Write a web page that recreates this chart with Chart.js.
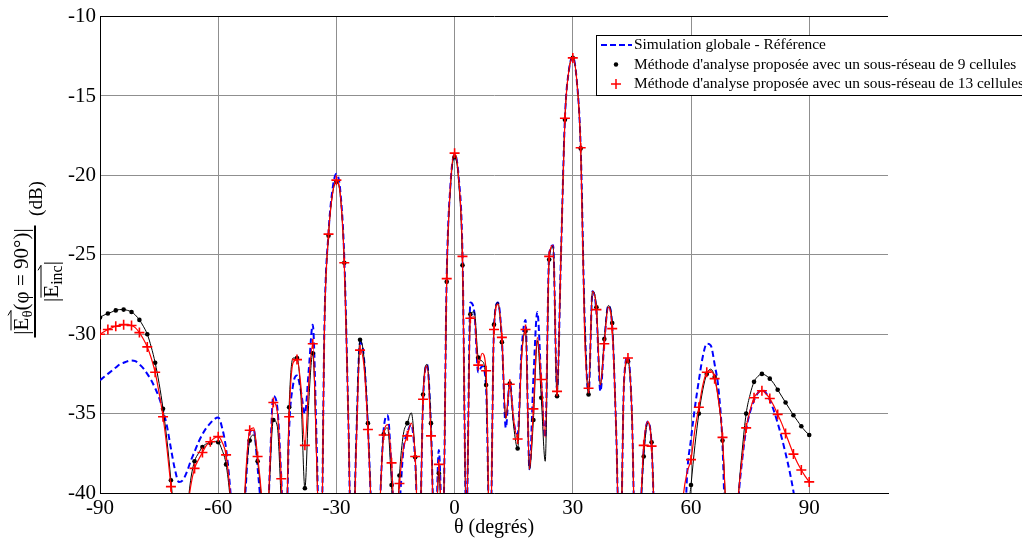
<!DOCTYPE html>
<html><head><meta charset="utf-8">
<script src="https://cdn.jsdelivr.net/npm/chart.js@4.4.1/dist/chart.umd.min.js"></script>
<style>html,body{margin:0;padding:0;background:#fff;}</style>
</head><body>
<canvas id="c" width="1022" height="540"></canvas>
<script>
// ---- data (theta in degrees, values in dB) ----
const theta = [
-90,-89,-88,-87,-86,-85,-84,-83,-82,-81,
-80,-79,-78,-77,-76,-75,-74,-73,-72,-71,
-70,-69,-68,-67,-66,-65,-64,-63,-62,-61,
-60,-59,-58,-57,-56,-55,-54,-53,-52,-51,
-50,-49,-48,-47,-46,-45,-44,-43,-42,-41,
-40,-39,-38,-37,-36,-35,-34,-33,-32,-31,
-30,-29,-28,-27,-26,-25,-24,-23,-22,-21,
-20,-19,-18,-17,-16,-15,-14,-13,-12,-11,
-10,-9,-8,-7,-6,-5,-4,-3,-2,-1,
0,1,2,3,4,5,6,7,8,9,
10,11,12,13,14,15,16,17,18,19,
20,21,22,23,24,25,26,27,28,29,
30,31,32,33,34,35,36,37,38,39,
40,41,42,43,44,45,46,47,48,49,
50,51,52,53,54,55,56,57,58,59,
60,61,62,63,64,65,66,67,68,69,
70,71,72,73,74,75,76,77,78,79,
80,81,82,83,84,85,86,87,88,89,
90];

const refSim = [
-32.9,-32.7,-32.5,-32.3,-32.1,-31.9,-31.8,-31.7,-31.65,-31.7,
-31.9,-32.15,-32.5,-32.9,-33.4,-34.0,-34.8,-35.8,-37.2,-38.5,
-39.3,-39.2,-38.7,-38.0,-37.4,-36.8,-36.3,-35.9,-35.6,-35.35,
-35.25,-35.9,-37.2,-39.6,-43,-47,-44,-39.6,-36.2,-36.0,
-38.4,-41.5,-46,-39.2,-33.9,-34.6,-39.0,-45,-36.0,-33.2,
-32.6,-33.6,-35.0,-32.2,-29.4,-37,-46,-29.0,-23.6,-20.9,
-19.9,-21.0,-25.2,-35,-46,-37,-30.5,-31.5,-35.8,-42,
-47,-41,-36.0,-35.1,-38.5,-43,-40.8,-37.3,-36.2,-35.7,
-38.0,-44,-34.2,-31.9,-35.8,-44,-37.3,-43,-26.3,-20.4,
-18.7,-20.0,-24.9,-42,-28.0,-28.6,-32.4,-32.0,-33.4,-44,
-29.6,-28.0,-30.3,-35.9,-33.0,-35.5,-36.3,-31.0,-29.1,-38.5,
-32.8,-28.6,-33.0,-36.5,-25.0,-24.4,-33.5,-25.0,-16.4,-13.4,
-12.55,-14.0,-18.2,-29,-33.8,-27.3,-28.6,-33.6,-30.5,-28.2,
-29.5,-36,-45,-33.0,-31.4,-35,-45,-42,-37.3,-35.5,
-37.0,-44,-48,-50,-50,-50,-48,-44,-45,-38.9,
-36.6,-34.6,-32.9,-31.4,-30.6,-30.7,-31.9,-33.5,-37.0,-45,
-50,-45,-40.5,-37.9,-36.0,-34.9,-34.15,-33.7,-33.5,-33.7,
-34.15,-34.8,-35.6,-36.5,-37.5,-38.6,-39.9,-41.5,-43,-45,
-47];

const cells9 = [
-28.95,-28.8,-28.7,-28.6,-28.5,-28.45,-28.45,-28.5,-28.6,-28.8,
-29.1,-29.5,-30.0,-30.8,-31.8,-33.1,-34.7,-36.7,-39.2,-42,
-45,-44,-41.5,-39.2,-38.0,-37.5,-37.1,-36.9,-36.85,-36.75,
-36.8,-37.3,-38.2,-40.3,-44,-47,-44,-39.2,-36.7,-36.35,
-38.0,-40.5,-45,-39.5,-35.4,-35.8,-40.5,-45,-34.6,-31.5,
-31.5,-33.9,-39.7,-34.2,-31.2,-38,-46,-29.2,-23.8,-21.2,
-20.4,-21.3,-25.5,-35,-46,-37,-30.35,-31.5,-35.6,-42,
-47,-41,-36.3,-35.9,-39.5,-44,-38.9,-36.3,-35.6,-34.95,
-37.75,-44,-33.8,-31.9,-35.6,-44,-38.76,-43,-26.7,-20.6,
-18.85,-20.3,-25.66,-42,-28.74,-28.6,-31.47,-31.7,-33.2,-44,
-29.4,-28.0,-30.5,-35.3,-33.1,-35.8,-37.2,-31.4,-29.8,-38.5,
-35.4,-30.4,-34.0,-38.0,-25.3,-24.5,-33.9,-25.0,-16.5,-13.4,
-12.6,-14.0,-18.3,-29,-33.8,-27.3,-28.3,-33.2,-30.3,-28.2,
-29.3,-36,-45,-33.0,-31.7,-35,-45,-42,-37.7,-35.6,
-36.8,-44,-48,-50,-50,-50,-48,-46,-48,-42,
-39.5,-37.0,-35.0,-33.5,-32.5,-32.2,-32.7,-34.2,-36.7,-42,
-48,-45,-40.3,-37.3,-35.0,-33.8,-33.0,-32.65,-32.5,-32.6,
-32.8,-33.1,-33.5,-33.9,-34.3,-34.7,-35.1,-35.45,-35.8,-36.1,
-36.35];

const cells13 = [
-30.0,-29.85,-29.7,-29.6,-29.5,-29.45,-29.4,-29.4,-29.45,-29.6,
-29.9,-30.3,-30.8,-31.5,-32.4,-33.7,-35.2,-37.2,-39.6,-42,
-45,-44,-41.5,-39.6,-38.45,-37.9,-37.45,-37.0,-36.77,-36.55,
-36.45,-36.8,-37.6,-39.9,-43,-47,-44,-38.8,-36.05,-35.9,
-37.7,-40.2,-45,-39.0,-34.3,-34.9,-39.1,-45,-35.2,-31.8,
-31.6,-33.3,-37.0,-33.0,-30.6,-38,-46,-29.2,-23.7,-21.2,
-20.3,-21.2,-25.5,-35,-46,-37.5,-31.0,-32.0,-36.0,-42,
-47,-41,-36.35,-35.7,-38.1,-43,-39.4,-37.2,-36.4,-35.6,
-37.7,-44,-34.1,-32.0,-36.4,-44,-38.2,-43,-26.5,-20.4,
-18.6,-20.1,-25.1,-42,-29.0,-28.9,-31.95,-31.2,-32.3,-44,
-29.7,-28.1,-30.2,-35.3,-33.15,-35.4,-36.6,-31.5,-29.7,-38.5,
-34.7,-30.2,-32.85,-36.5,-25.1,-24.4,-33.6,-25.0,-16.4,-13.4,
-12.6,-14.0,-18.26,-30,-33.4,-27.3,-28.45,-33.2,-30.6,-28.3,
-29.65,-36,-45,-33.0,-31.5,-35,-45,-42,-37.0,-35.5,
-37.05,-44,-48,-50,-50,-50,-48,-44,-40.3,-38.7,
-37.9,-36.0,-34.6,-33.2,-32.4,-32.3,-32.8,-34.2,-36.5,-42,
-48,-45,-40.3,-37.8,-35.9,-34.8,-34.0,-33.7,-33.56,-33.75,
-34.05,-34.5,-35.05,-35.6,-36.25,-36.9,-37.55,-38.1,-38.55,-38.95,
-39.3];

const xTicks = [-90, -60, -30, 0, 30, 60, 90];
const yTicks = [-40, -35, -30, -25, -20, -15, -10];
const seriesNames = [
  'Simulation globale - Référence',
  "Méthode d'analyse proposée avec un sous-réseau de 9 cellules",
  "Méthode d'analyse proposée avec un sous-réseau de 13 cellules"
];
const xTitle = 'θ (degrés)';
const yUnit = '(dB)';

// ---- rendering ----
const SERIF = '"Liberation Serif", "Times New Roman", serif';
const toXY = vals => theta.map((t, i) => ({x: t, y: vals[i]}));
const markerR = (vals, r) => c => (theta[c.dataIndex] % 2 === 0 && vals[c.dataIndex] >= -40) ? r : 0;

const legendPlugin = {
  id: 'boxLegend',
  afterDraw(chart) {
    const ctx = chart.ctx;
    ctx.save();
    const L = 596, T = 35, H = 60;
    ctx.fillStyle = '#fff';
    ctx.fillRect(L, T, 460, H);
    ctx.strokeStyle = '#000'; ctx.lineWidth = 1;
    ctx.strokeRect(L + 0.5, T + 0.5, 460, H);
    const rows = [45, 64.5, 84];
    ctx.strokeStyle = '#0000ff'; ctx.lineWidth = 2; ctx.setLineDash([6, 3]);
    ctx.beginPath(); ctx.moveTo(601, rows[0]); ctx.lineTo(632, rows[0]); ctx.stroke();
    ctx.setLineDash([]);
    ctx.fillStyle = '#000';
    ctx.beginPath(); ctx.arc(616, rows[1], 2.2, 0, Math.PI * 2); ctx.fill();
    ctx.strokeStyle = '#ff0000'; ctx.lineWidth = 1.5;
    ctx.beginPath(); ctx.moveTo(611, rows[2]); ctx.lineTo(621, rows[2]);
    ctx.moveTo(616, rows[2] - 5); ctx.lineTo(616, rows[2] + 5); ctx.stroke();
    ctx.fillStyle = '#000';
    ctx.font = '15.4px ' + SERIF;
    ctx.textBaseline = 'middle'; ctx.textAlign = 'left';
    seriesNames.forEach((s, i) => ctx.fillText(s, 634, rows[i]));
    ctx.restore();
  }
};

function drawPieces(ctx, pieces, cx, base) {
  let total = 0;
  pieces.forEach(p => { ctx.font = p.size + 'px ' + SERIF; p.w = ctx.measureText(p.t).width; total += p.w; });
  let x = cx - total / 2;
  pieces.forEach(p => { ctx.font = p.size + 'px ' + SERIF; p.x = x; ctx.fillText(p.t, x, base + (p.dy || 0)); x += p.w; });
  return pieces;
}
function harpoon(ctx, x1, x2, y) {
  ctx.beginPath();
  ctx.moveTo(x1, y); ctx.lineTo(x2, y);
  ctx.moveTo(x2, y); ctx.lineTo(x2 - 5, y - 3);
  ctx.stroke();
}

const yTitlePlugin = {
  id: 'yTitle',
  afterDraw(chart) {
    const ctx = chart.ctx;
    ctx.save();
    ctx.translate(35, 281.5);
    ctx.rotate(-Math.PI / 2);
    ctx.fillStyle = '#000'; ctx.strokeStyle = '#000';
    ctx.textBaseline = 'alphabetic'; ctx.textAlign = 'left';
    ctx.fillRect(-56, -1, 112, 2);
    const num = drawPieces(ctx, [
      {t: '|', size: 21}, {t: 'E', size: 21}, {t: 'θ', size: 15, dy: 4},
      {t: '(φ = 90°)', size: 21}, {t: '|', size: 21}
    ], 0, -7);
    ctx.lineWidth = 1;
    harpoon(ctx, num[1].x, num[2].x + num[2].w, -24);
    const den = drawPieces(ctx, [
      {t: '|', size: 21}, {t: 'E', size: 21}, {t: 'inc', size: 16, dy: 4}, {t: '|', size: 21}
    ], 0, 23);
    harpoon(ctx, den[1].x, den[2].x + den[2].w, 6);
    ctx.font = '19px ' + SERIF;
    ctx.textAlign = 'center'; ctx.textBaseline = 'middle';
    ctx.fillText(yUnit, 83, 2);
    ctx.restore();
  }
};

new Chart(document.getElementById('c'), {
  type: 'line',
  data: {
    datasets: [
      { label: seriesNames[0], data: toXY(refSim), borderColor: '#0000ff', borderWidth: 2,
        borderDash: [6, 3.5], pointRadius: 0, cubicInterpolationMode: 'monotone', order: 3, fill: false },
      { label: seriesNames[1], data: toXY(cells9), borderColor: '#000000', borderWidth: 1,
        pointRadius: markerR(cells9, 2.3), pointStyle: 'circle', pointBackgroundColor: '#000',
        pointBorderColor: '#000', pointBorderWidth: 0, cubicInterpolationMode: 'monotone', order: 2, fill: false },
      { label: seriesNames[2], data: toXY(cells13), borderColor: '#ff0000', borderWidth: 1.2,
        pointRadius: markerR(cells13, 5), pointStyle: 'cross', pointBorderColor: '#ff0000',
        pointBorderWidth: 1.6, cubicInterpolationMode: 'monotone', order: 1, fill: false }
    ]
  },
  options: {
    responsive: false,
    animation: false,
    devicePixelRatio: 1,
    layout: { padding: { left: 0, right: 134, top: 16, bottom: 0 } },
    plugins: { legend: { display: false }, tooltip: { enabled: false } },
    scales: {
      x: {
        type: 'linear', min: -90, max: 110,
        afterBuildTicks: s => { s.ticks = xTicks.map(v => ({value: v})); },
        afterFit: s => { s.height = 47; },
        ticks: { color: '#000', font: { family: SERIF, size: 21 }, padding: 3, maxRotation: 0, autoSkip: false,
                 callback: v => String(v) },
        grid: { color: '#8f8f8f', lineWidth: 1, drawTicks: false },
        border: { color: '#000', width: 1 },
        title: { display: true, text: xTitle, color: '#000', font: { family: SERIF, size: 20 }, padding: { top: 0, bottom: 0 } }
      },
      y: {
        type: 'linear', min: -40, max: -10,
        afterBuildTicks: s => { s.ticks = yTicks.map(v => ({value: v})); },
        afterFit: s => { s.width = 100; },
        ticks: { color: '#000', font: { family: SERIF, size: 21 }, padding: 4, callback: v => String(v) },
        grid: { color: c => (c.tick && c.tick.value === -10) ? '#000' : '#8f8f8f', lineWidth: 1, drawTicks: false },
        border: { color: '#000', width: 1 }
      }
    }
  },
  plugins: [legendPlugin, yTitlePlugin]
});
</script>
</body></html>
